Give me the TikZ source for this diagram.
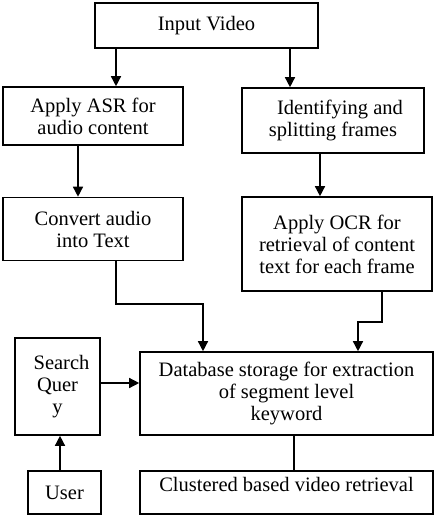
\documentclass[tikz,border=0pt]{standalone}
\usepackage{amsmath}
\usepackage{fontspec}
\setmainfont{Liberation Serif}
\usetikzlibrary{calc,positioning,arrows.meta}
\tikzset{>={Triangle[length=10pt,width=10pt]}}
\tikzset{
  stage/.style={draw, line width=1.6pt, align=center, inner sep=2pt,
    font=\fontsize{20.5}{22}\selectfont},
  flow/.style={line width=1.4pt}
}

\begin{document}
\begin{tikzpicture}[x=1pt,y=-1pt]
      \useasboundingbox (0,0) rectangle (435,525);
      \node [stage,
        minimum width=223pt, minimum height=45pt
      ] (input) at (206.5,25.5) {Input Video};
      \node [stage,
        minimum width=180pt, minimum height=58pt
      ] (asr) at (93,116) {Apply ASR for\\audio content};
      \node [stage,
        minimum width=182pt, minimum height=65pt
      ] (frames) at (333,120.5) {\hspace*{14pt}Identifying and\\splitting frames};
      \node [stage,
        minimum width=180pt, minimum height=63pt
      ] (convert) at (93,229) {Convert audio\\into Text};
      \node [stage,
        minimum width=190pt, minimum height=94pt
      ] (ocr) at (337,244) {Apply OCR for\\retrieval of content\\text for each frame};
      \node [stage,
        minimum width=85pt, minimum height=97pt
      ] (query) at (57.5,386.5) {\hspace*{8pt}Search\\Quer\\y};
      \node [stage,
        minimum width=293pt, minimum height=83pt
      ] (db) at (286.5,393.5) {Database storage for extraction\\of segment level\\keyword};
      \node [stage,
        minimum width=73pt, minimum height=43pt
      ] (user) at (64.5,492.5) {User};
      \node [stage,
        minimum width=293pt, minimum height=43pt, text depth=16pt
      ] (cluster) at (286.5,492.5) {Clustered based video retrieval};

      \draw[flow,->] (input.south -| 116,0) -- (asr.north -| 116,0);
      \draw[flow,->] (input.south -| 290,0) -- (frames.north -| 290,0);
      \draw[flow,->] (asr.south -| 78,0) -- (convert.north -| 78,0);
      \draw[flow,->] (frames.south -| 320,0) -- (ocr.north -| 320,0);
      \draw[flow,->] (convert.south -| 116,0) |- (203,304) -- (db.north -| 203,0);
      \draw[flow,->] (ocr.south -| 382,0) |- (358,322) -- (db.north -| 358,0);
      \draw[flow,->] (query.east |- 0,383) -- (db.west |- 0,383);
      \draw[flow,->] (user.north -| 60,0) -- (query.south -| 60,0);
      \draw[flow] (db.south -| 294,0) -- (cluster.north -| 294,0);
    \end{tikzpicture}
\end{document}
